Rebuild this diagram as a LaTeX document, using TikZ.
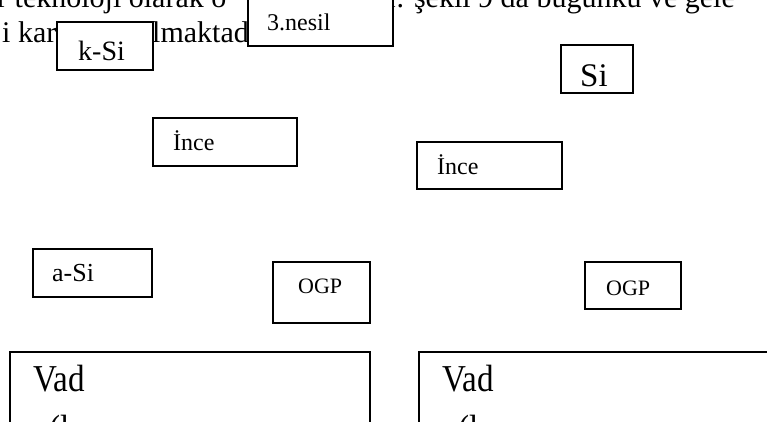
\documentclass[tikz,border=0pt]{standalone}
\usepackage{fontspec}
\setmainfont{Liberation Serif}
\newfontfamily\condfont[FakeStretch=0.87]{Liberation Serif}
\begin{document}
\begin{tikzpicture}[x=1pt,y=-1pt,
  bx/.style={draw=black,line width=1.6pt,fill=white},
  bgtext/.style={anchor=base west,inner sep=0pt,font=\fontsize{30}{30}\selectfont},
  lbl/.style={anchor=base west,inner sep=0pt},
  vadtext/.style={anchor=base west,inner sep=0pt,font=\condfont\fontsize{38}{38}\selectfont}]
\useasboundingbox (0,0) rectangle (767,421);
\clip (0,0) rectangle (767,421);
% background text lines
\node[bgtext] (t1a) at (-3,7) {r teknoloji olarak ö};
\node[bgtext] (t1b) at (388,7) {r. şekil 9 da bugünkü ve gele};
\node[bgtext] (t2a) at (2,42) {i kar};
\node[bgtext] (t2b) at (152,42) {lmaktad};
% boxes
\draw[bx] (248,-10) rectangle (393,46) coordinate (b3);
\node[lbl,font=\fontsize{24}{24}\selectfont] (l3) at (267,30) {3.nesil};
\draw[bx] (57,22) rectangle (153,70) coordinate (bk);
\node[lbl,font=\fontsize{28}{28}\selectfont] (lk) at (78,60) {k-Si};
\draw[bx] (561,45) rectangle (633,93) coordinate (bs);
\node[lbl,font=\fontsize{33}{33}\selectfont] (ls) at (580,86) {Si};
\draw[bx] (153,118) rectangle (297,166) coordinate (bi1);
\node[lbl,font=\fontsize{24}{24}\selectfont] (li1) at (173,150) {İnce};
\draw[bx] (417,142) rectangle (562,189) coordinate (bi2);
\node[lbl,font=\fontsize{24}{24}\selectfont] (li2) at (437,174) {İnce};
\draw[bx] (33,249) rectangle (152,297) coordinate (ba);
\node[lbl,font=\fontsize{26}{26}\selectfont] (la) at (52,281) {a-Si};
\draw[bx] (273,262) rectangle (370,323) coordinate (bo1);
\node[lbl,font=\fontsize{22}{22}\selectfont] (lo1) at (298,293) {OGP};
\draw[bx] (585,262) rectangle (681,309) coordinate (bo2);
\node[lbl,font=\fontsize{22}{22}\selectfont] (lo2) at (606,295) {OGP};
\draw[bx] (10,352) rectangle (370,440) coordinate (bv1);
\node[vadtext] (lv1) at (33,391) {Vad};
\node[vadtext] (lv1b) at (33,441) {o(lus};
\draw[bx] (419,352) rectangle (780,440) coordinate (bv2);
\node[vadtext] (lv2) at (442,391) {Vad};
\node[vadtext] (lv2b) at (442,441) {o(lus};
\end{tikzpicture}
\end{document}
